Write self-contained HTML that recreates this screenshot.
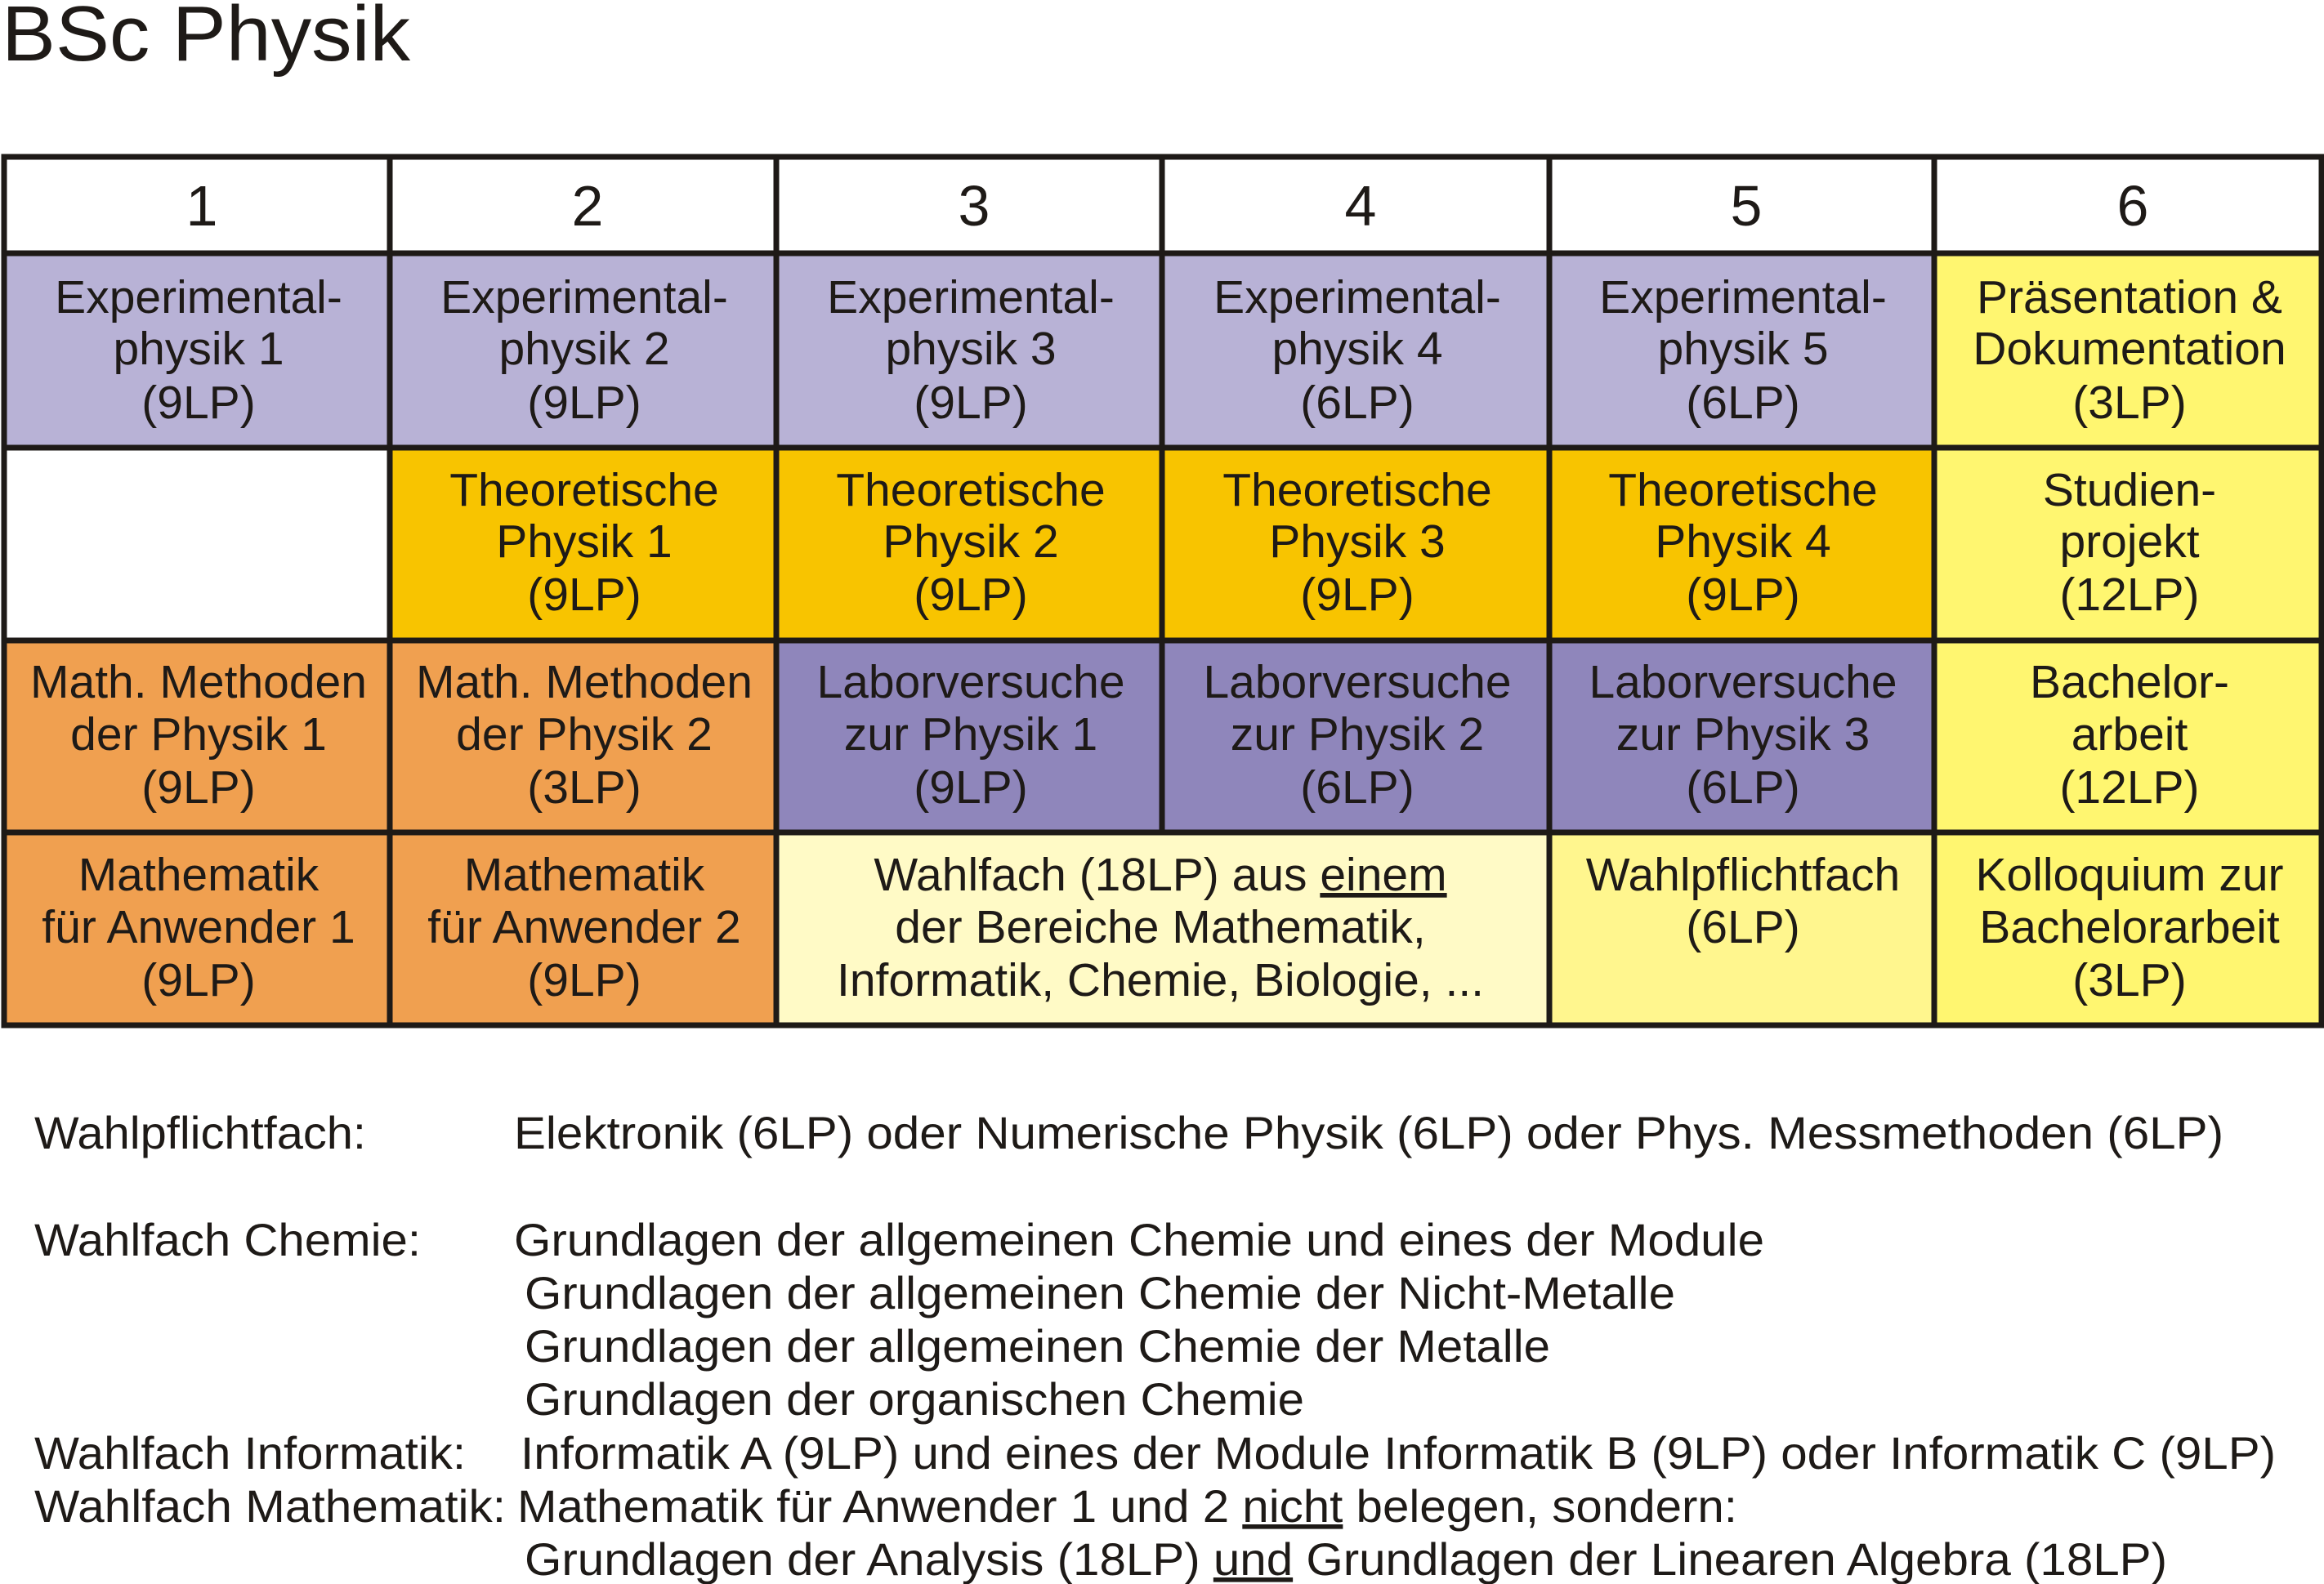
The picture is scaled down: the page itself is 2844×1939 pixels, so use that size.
<!DOCTYPE html>
<html><head><meta charset="utf-8"><style>html,body{margin:0;padding:0;background:#fff}svg{display:block}</style></head>
<body>
<svg xmlns="http://www.w3.org/2000/svg" width="2844" height="1939" viewBox="0 0 2844 1939" font-family="Liberation Sans, sans-serif" fill="#1e1a17">
<text x="2" y="74" font-size="96" textLength="500" lengthAdjust="spacingAndGlyphs">BSc Physik</text>
<rect x="5" y="192" width="2836" height="118" fill="#fff"/>
<g>
<rect x="5" y="310" width="2362" height="238" fill="#b8b2d6"/>
<rect x="2367" y="310" width="474" height="238" fill="#fff670"/>
<rect x="5" y="548" width="472" height="236" fill="#fff"/>
<rect x="477" y="548" width="1890" height="236" fill="#f8c400"/>
<rect x="2367" y="548" width="474" height="236" fill="#fff670"/>
<rect x="5" y="784" width="945" height="235" fill="#f0a050"/>
<rect x="950" y="784" width="1417" height="235" fill="#8f86bb"/>
<rect x="2367" y="784" width="474" height="235" fill="#fff670"/>
<rect x="5" y="1019" width="945" height="236" fill="#f0a050"/>
<rect x="950" y="1019" width="946" height="236" fill="#fffac6"/>
<rect x="1896" y="1019" width="471" height="236" fill="#fff68e"/>
<rect x="2367" y="1019" width="474" height="236" fill="#fff670"/>
</g>
<g stroke="#1e1a17" stroke-width="7" fill="none">
<rect x="5" y="192" width="2836" height="1063"/>
<line x1="5" y1="310" x2="2841" y2="310"/>
<line x1="5" y1="548" x2="2841" y2="548"/>
<line x1="5" y1="784" x2="2841" y2="784"/>
<line x1="5" y1="1019" x2="2841" y2="1019"/>
<line x1="477" y1="192" x2="477" y2="1255"/>
<line x1="950" y1="192" x2="950" y2="1255"/>
<line x1="1422" y1="192" x2="1422" y2="1019"/>
<line x1="1896" y1="192" x2="1896" y2="1255"/>
<line x1="2367" y1="192" x2="2367" y2="1255"/>
</g>
<g font-size="70" text-anchor="middle">
<text x="247" y="276">1</text><text x="719" y="276">2</text><text x="1192" y="276">3</text>
<text x="1665" y="276">4</text><text x="2137" y="276">5</text><text x="2610" y="276">6</text>
</g>
<g font-size="57" text-anchor="middle">
<text x="243" y="383">Experimental-</text><text x="243" y="446">physik 1</text><text x="243" y="512">(9LP)</text>
<text x="715" y="383">Experimental-</text><text x="715" y="446">physik 2</text><text x="715" y="512">(9LP)</text>
<text x="1188" y="383">Experimental-</text><text x="1188" y="446">physik 3</text><text x="1188" y="512">(9LP)</text>
<text x="1661" y="383">Experimental-</text><text x="1661" y="446">physik 4</text><text x="1661" y="512">(6LP)</text>
<text x="2133" y="383">Experimental-</text><text x="2133" y="446">physik 5</text><text x="2133" y="512">(6LP)</text>
<text x="2606" y="383">Präsentation &amp;</text><text x="2606" y="446">Dokumentation</text><text x="2606" y="512">(3LP)</text>
<text x="715" y="619">Theoretische</text><text x="715" y="682">Physik 1</text><text x="715" y="747">(9LP)</text>
<text x="1188" y="619">Theoretische</text><text x="1188" y="682">Physik 2</text><text x="1188" y="747">(9LP)</text>
<text x="1661" y="619">Theoretische</text><text x="1661" y="682">Physik 3</text><text x="1661" y="747">(9LP)</text>
<text x="2133" y="619">Theoretische</text><text x="2133" y="682">Physik 4</text><text x="2133" y="747">(9LP)</text>
<text x="2606" y="619">Studien-</text><text x="2606" y="682">projekt</text><text x="2606" y="747">(12LP)</text>
<text x="243" y="854">Math. Methoden</text><text x="243" y="918">der Physik 1</text><text x="243" y="983">(9LP)</text>
<text x="715" y="854">Math. Methoden</text><text x="715" y="918">der Physik 2</text><text x="715" y="983">(3LP)</text>
<text x="1188" y="854">Laborversuche</text><text x="1188" y="918">zur Physik 1</text><text x="1188" y="983">(9LP)</text>
<text x="1661" y="854">Laborversuche</text><text x="1661" y="918">zur Physik 2</text><text x="1661" y="983">(6LP)</text>
<text x="2133" y="854">Laborversuche</text><text x="2133" y="918">zur Physik 3</text><text x="2133" y="983">(6LP)</text>
<text x="2606" y="854">Bachelor-</text><text x="2606" y="918">arbeit</text><text x="2606" y="983">(12LP)</text>
<text x="243" y="1090">Mathematik</text><text x="243" y="1154">für Anwender 1</text><text x="243" y="1219">(9LP)</text>
<text x="715" y="1090">Mathematik</text><text x="715" y="1154">für Anwender 2</text><text x="715" y="1219">(9LP)</text>
<text x="1420" y="1090">Wahlfach (18LP) aus <tspan text-decoration="underline">einem</tspan></text>
<text x="1420" y="1154">der Bereiche Mathematik,</text>
<text x="1420" y="1219">Informatik, Chemie, Biologie, ...</text>
<text x="2133" y="1090">Wahlpflichtfach</text><text x="2133" y="1154">(6LP)</text>
<text x="2606" y="1090">Kolloquium zur</text><text x="2606" y="1154">Bachelorarbeit</text><text x="2606" y="1219">(3LP)</text>
</g>
<g font-size="56">
<text x="42" y="1406" textLength="406" lengthAdjust="spacingAndGlyphs">Wahlpflichtfach:</text>
<text x="629" y="1406" textLength="2092" lengthAdjust="spacingAndGlyphs">Elektronik (6LP) oder Numerische Physik (6LP) oder Phys. Messmethoden (6LP)</text>
<text x="42" y="1537" textLength="473" lengthAdjust="spacingAndGlyphs">Wahlfach Chemie:</text>
<text x="629" y="1537" textLength="1530" lengthAdjust="spacingAndGlyphs">Grundlagen der allgemeinen Chemie und eines der Module</text>
<text x="642" y="1602" textLength="1408" lengthAdjust="spacingAndGlyphs">Grundlagen der allgemeinen Chemie der Nicht-Metalle</text>
<text x="642" y="1667" textLength="1255" lengthAdjust="spacingAndGlyphs">Grundlagen der allgemeinen Chemie der Metalle</text>
<text x="642" y="1732" textLength="954" lengthAdjust="spacingAndGlyphs">Grundlagen der organischen Chemie</text>
<text x="42" y="1798" textLength="528" lengthAdjust="spacingAndGlyphs">Wahlfach Informatik:</text>
<text x="637" y="1798" textLength="2148" lengthAdjust="spacingAndGlyphs">Informatik A (9LP) und eines der Module Informatik B (9LP) oder Informatik C (9LP)</text>
<text x="42" y="1863" textLength="577" lengthAdjust="spacingAndGlyphs">Wahlfach Mathematik:</text>
<text x="633" y="1863" textLength="1493" lengthAdjust="spacingAndGlyphs">Mathematik für Anwender 1 und 2 <tspan text-decoration="underline">nicht</tspan> belegen, sondern:</text>
<text x="642" y="1928" textLength="2010" lengthAdjust="spacingAndGlyphs">Grundlagen der Analysis (18LP) <tspan text-decoration="underline">und</tspan> Grundlagen der Linearen Algebra (18LP)</text>
</g>
</svg>
</body></html>
